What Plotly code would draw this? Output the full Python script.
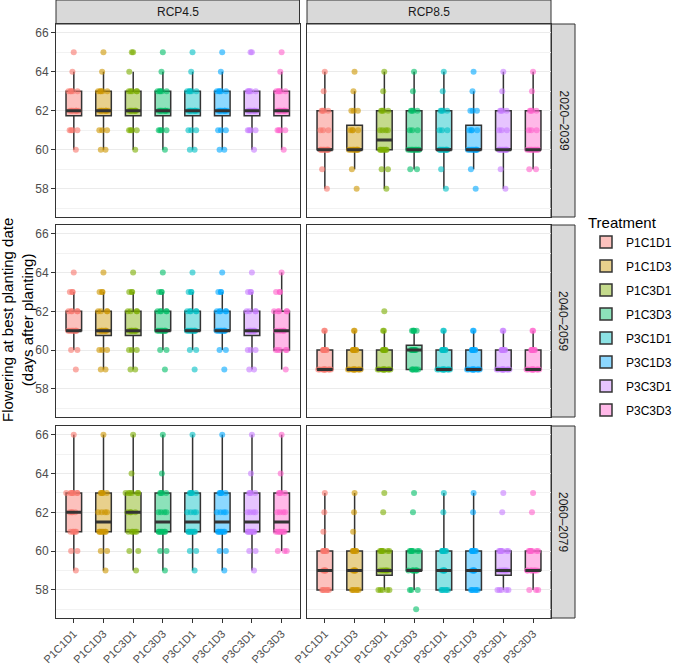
import numpy as np
import plotly.graph_objects as go

# ---------------- data ----------------
treatments = ["P1C1D1", "P1C1D3", "P1C3D1", "P1C3D3", "P3C1D1", "P3C1D3", "P3C3D1", "P3C3D3"]
colors = ["#F8766D", "#CD9600", "#7CAE00", "#00BE67", "#00BFC4", "#00A9FF", "#C77CFF", "#FF61CC"]
scenarios = ["RCP4.5", "RCP8.5"]
periods = ["2020–2039", "2040–2059", "2060–2079"]
y_ticks = [58, 60, 62, 64, 66]

# flowering day values (days after planting) and, per treatment, number of years at each value
day_values = [57, 58, 59, 60, 61, 62, 63, 64, 65, 66]

rcp45_2020 = {
    "P1C1D1": [0, 0, 0, 1, 4, 8, 5, 1, 1, 0],
    "P1C1D3": [0, 0, 0, 2, 3, 8, 5, 1, 1, 0],
    "P1C3D1": [0, 0, 0, 1, 4, 7, 5, 1, 2, 0],
    "P1C3D3": [0, 0, 0, 1, 4, 8, 5, 1, 1, 0],
    "P3C1D1": [0, 0, 0, 2, 3, 8, 5, 1, 1, 0],
    "P3C1D3": [0, 0, 0, 2, 3, 8, 5, 1, 1, 0],
    "P3C3D1": [0, 0, 0, 1, 4, 8, 5, 0, 2, 0],
    "P3C3D3": [0, 0, 0, 1, 4, 8, 5, 1, 1, 0],
}
rcp85_2020 = {
    "P1C1D1": [0, 1, 1, 9, 3, 4, 1, 1, 0, 0],
    "P1C1D3": [0, 1, 1, 9, 4, 3, 1, 1, 0, 0],
    "P1C3D1": [0, 1, 2, 7, 4, 4, 1, 1, 0, 0],
    "P1C3D3": [0, 0, 2, 9, 3, 4, 1, 1, 0, 0],
    "P3C1D1": [0, 1, 1, 9, 3, 4, 1, 1, 0, 0],
    "P3C1D3": [0, 1, 1, 9, 4, 3, 1, 1, 0, 0],
    "P3C3D1": [0, 1, 1, 9, 3, 4, 1, 1, 0, 0],
    "P3C3D3": [0, 0, 2, 9, 3, 4, 1, 1, 0, 0],
}
rcp45_2040 = {
    "P1C1D1": [0, 0, 1, 2, 8, 5, 3, 1, 0, 0],
    "P1C1D3": [0, 0, 2, 3, 7, 4, 3, 1, 0, 0],
    "P1C3D1": [0, 0, 2, 3, 7, 4, 3, 1, 0, 0],
    "P1C3D3": [0, 0, 1, 2, 8, 5, 3, 1, 0, 0],
    "P3C1D1": [0, 0, 1, 2, 8, 5, 3, 1, 0, 0],
    "P3C1D3": [0, 0, 1, 2, 8, 5, 3, 1, 0, 0],
    "P3C3D1": [0, 0, 2, 3, 7, 4, 3, 1, 0, 0],
    "P3C3D3": [0, 0, 1, 5, 5, 5, 3, 1, 0, 0],
}
rcp85_2040 = {
    "P1C1D1": [0, 0, 11, 7, 2, 0, 0, 0, 0, 0],
    "P1C1D3": [0, 0, 11, 7, 2, 0, 0, 0, 0, 0],
    "P1C3D1": [0, 0, 11, 6, 2, 1, 0, 0, 0, 0],
    "P1C3D3": [0, 0, 6, 9, 5, 0, 0, 0, 0, 0],
    "P3C1D1": [0, 0, 11, 7, 2, 0, 0, 0, 0, 0],
    "P3C1D3": [0, 0, 11, 7, 2, 0, 0, 0, 0, 0],
    "P3C3D1": [0, 0, 11, 7, 2, 0, 0, 0, 0, 0],
    "P3C3D3": [0, 0, 11, 7, 2, 0, 0, 0, 0, 0],
}
rcp45_2060 = {
    "P1C1D1": [0, 0, 1, 2, 5, 4, 7, 0, 0, 1],
    "P1C1D3": [0, 0, 1, 2, 7, 4, 5, 0, 0, 1],
    "P1C3D1": [0, 0, 1, 2, 5, 4, 6, 1, 0, 1],
    "P1C3D3": [0, 0, 1, 2, 7, 4, 4, 1, 0, 1],
    "P3C1D1": [0, 0, 1, 2, 7, 4, 5, 0, 0, 1],
    "P3C1D3": [0, 0, 1, 2, 7, 4, 5, 0, 0, 1],
    "P3C3D1": [0, 0, 1, 2, 7, 4, 4, 1, 0, 1],
    "P3C3D3": [0, 0, 0, 3, 7, 4, 4, 1, 0, 1],
}
rcp85_2060 = {
    "P1C1D1": [0, 6, 5, 6, 1, 1, 1, 0, 0, 0],
    "P1C1D3": [0, 6, 5, 6, 1, 1, 1, 0, 0, 0],
    "P1C3D1": [0, 5, 6, 7, 0, 1, 1, 0, 0, 0],
    "P1C3D3": [1, 3, 7, 7, 0, 1, 1, 0, 0, 0],
    "P3C1D1": [0, 6, 5, 7, 0, 1, 1, 0, 0, 0],
    "P3C1D3": [0, 6, 5, 7, 0, 1, 1, 0, 0, 0],
    "P3C3D1": [0, 5, 6, 7, 0, 1, 1, 0, 0, 0],
    "P3C3D3": [0, 3, 8, 7, 0, 1, 1, 0, 0, 0],
}

panels = {
    ("RCP4.5", "2020–2039"): rcp45_2020,
    ("RCP8.5", "2020–2039"): rcp85_2020,
    ("RCP4.5", "2040–2059"): rcp45_2040,
    ("RCP8.5", "2040–2059"): rcp85_2040,
    ("RCP4.5", "2060–2079"): rcp45_2060,
    ("RCP8.5", "2060–2079"): rcp85_2060,
}

# ---------------- styling / layout ----------------
W, H = 676, 664
FONT = "Liberation Sans, Arial, sans-serif"
left_px, right_px, top_px, bottom_px = 56, 575, 24, 618
PW = right_px - left_px
PH = bottom_px - top_px


def px_x(p):
    return (p - left_px) / PW


def px_y(p):
    return 1 - (p - top_px) / PH


xdom = [[px_x(56), px_x(299.5)], [px_x(307), px_x(551)]]
ydom = [[px_y(217), px_y(24)], [px_y(417), px_y(225)], [px_y(618), px_y(426)]]


def rgba(hexc, a):
    h = hexc.lstrip("#")
    r, g, b = int(h[0:2], 16), int(h[2:4], 16), int(h[4:6], 16)
    return f"rgba({r},{g},{b},{a})"


def box_stats(v):
    # Tukey box statistics as in ggplot2 (quantile type 7)
    q1, med, q3 = np.percentile(v, [25, 50, 75])
    iqr = q3 - q1
    lf = v[v >= q1 - 1.5 * iqr].min()
    uf = v[v <= q3 + 1.5 * iqr].max()
    return q1, med, q3, lf, uf


fig = go.Figure()
layout_axes = {}
for r, per in enumerate(periods):
    for c, scen in enumerate(scenarios):
        k = r * 2 + c + 1
        sfx = "" if k == 1 else str(k)
        counts = panels[(scen, per)]
        for i, t in enumerate(treatments):
            yv = np.repeat(day_values, counts[t])
            q1, med, q3, lf, uf = box_stats(yv)
            # box with whiskers
            fig.add_trace(go.Box(
                x=[t], q1=[q1], median=[med], q3=[q3], lowerfence=[lf], upperfence=[uf],
                name=t, legendgroup=t, showlegend=(k == 1),
                xaxis="x" + sfx, yaxis="y" + sfx,
                fillcolor=rgba(colors[i], 0.45),
                line=dict(color="#333333", width=1.5),
                boxpoints=False, whiskerwidth=0, hoverinfo="skip",
            ))
        for i, t in enumerate(treatments):
            yv = np.repeat(day_values, counts[t])
            # jittered observations
            fig.add_trace(go.Box(
                x=[t] * len(yv), y=yv, name=t, legendgroup=t, showlegend=False,
                xaxis="x" + sfx, yaxis="y" + sfx,
                fillcolor="rgba(0,0,0,0)", line=dict(color="rgba(0,0,0,0)", width=0),
                marker=dict(color=rgba(colors[i], 0.6), size=6, line=dict(width=0)),
                boxpoints="all", jitter=1.0, pointpos=0, whiskerwidth=0,
                hoverinfo="y+name",
            ))
        for i, t in enumerate(treatments):
            yv = np.repeat(day_values, counts[t])
            q1, med, q3, lf, uf = box_stats(yv)
            # bold median bar
            fig.add_trace(go.Box(
                x=[t], q1=[med], median=[med], q3=[med], lowerfence=[med], upperfence=[med],
                name=t, legendgroup=t, showlegend=False,
                xaxis="x" + sfx, yaxis="y" + sfx,
                fillcolor="rgba(0,0,0,0)", line=dict(color="#333333", width=3),
                boxpoints=False, whiskerwidth=0, hoverinfo="skip",
            ))
        bottom = (r == 2)
        first_col = (c == 0)
        layout_axes["xaxis" + sfx] = dict(
            domain=xdom[c], anchor="y" + sfx,
            type="category", categoryorder="array", categoryarray=treatments,
            range=[-0.6, 7.6], showgrid=False, zeroline=False,
            showline=True, mirror=True, linecolor="#333333", linewidth=1,
            ticks="outside" if bottom else "", ticklen=4, tickcolor="#333333", tickwidth=1,
            showticklabels=bottom, tickangle=-45,
            tickfont=dict(family=FONT, size=11, color="#4D4D4D"),
            fixedrange=True,
        )
        layout_axes["yaxis" + sfx] = dict(
            domain=ydom[r], anchor="x" + sfx,
            range=[56.55, 66.45], tickvals=y_ticks,
            showgrid=True, gridcolor="#EBEBEB", gridwidth=1, zeroline=False,
            minor=dict(dtick=1, tick0=57, showgrid=True, gridcolor="#F2F2F2", gridwidth=0.6, ticks=""),
            showline=True, mirror=True, linecolor="#333333", linewidth=1,
            ticks="outside" if first_col else "", ticklen=4, tickcolor="#333333", tickwidth=1,
            showticklabels=first_col,
            tickfont=dict(family=FONT, size=12, color="#4D4D4D"),
            fixedrange=True,
        )

shapes = []
annotations = []
strip_h = top_px / PH
for c, scen in enumerate(scenarios):
    shapes.append(dict(type="rect", xref="paper", yref="paper",
                       x0=xdom[c][0], x1=xdom[c][1], y0=1, y1=1 + strip_h,
                       fillcolor="#D9D9D9", line=dict(color="#333333", width=1), layer="below"))
    annotations.append(dict(text=scen, xref="paper", yref="paper",
                            x=(xdom[c][0] + xdom[c][1]) / 2, y=1 + strip_h / 2,
                            showarrow=False, xanchor="center", yanchor="middle",
                            font=dict(family=FONT, size=12, color="#1A1A1A")))
for r, per in enumerate(periods):
    shapes.append(dict(type="rect", xref="paper", yref="paper",
                       x0=xdom[1][1], x1=1.0, y0=ydom[r][0], y1=ydom[r][1],
                       fillcolor="#D9D9D9", line=dict(color="#333333", width=1), layer="below"))
    annotations.append(dict(text=per, xref="paper", yref="paper",
                            x=(xdom[1][1] + 1.0) / 2, y=(ydom[r][0] + ydom[r][1]) / 2,
                            showarrow=False, textangle=90, xanchor="center", yanchor="middle",
                            font=dict(family=FONT, size=12, color="#1A1A1A")))

annotations.append(dict(text="Flowering at best planting date<br>(days after planting)",
                        xref="paper", yref="paper", x=px_x(17), y=px_y(320),
                        showarrow=False, textangle=-90, xanchor="center", yanchor="middle",
                        font=dict(family=FONT, size=15, color="#000000")))

fig.update_layout(
    width=W, height=H,
    margin=dict(l=left_px, r=W - right_px, t=top_px, b=H - bottom_px, autoexpand=False),
    paper_bgcolor="white", plot_bgcolor="white",
    boxmode="overlay", boxgap=0.25,
    font=dict(family=FONT, size=12, color="#000000"),
    shapes=shapes, annotations=annotations,
    legend=dict(title=dict(text="Treatment", font=dict(family=FONT, size=15, color="#000000")),
                x=px_x(586), y=px_y(208), xanchor="left", yanchor="top",
                font=dict(family=FONT, size=12, color="#000000"),
                tracegroupgap=5, bgcolor="rgba(0,0,0,0)"),
    **layout_axes,
)

fig.write_html("out.html")
